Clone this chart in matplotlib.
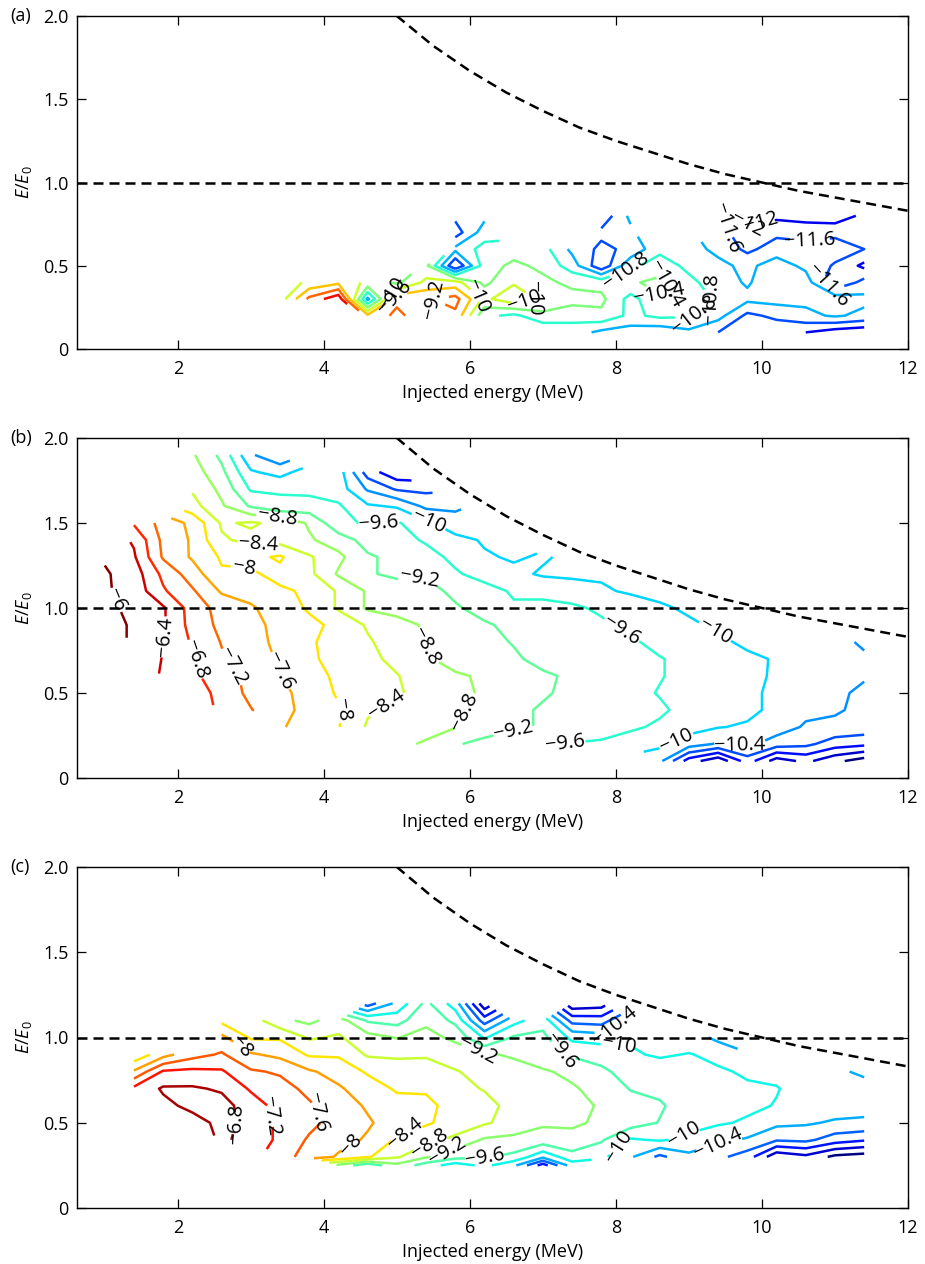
import numpy as np
import matplotlib
matplotlib.use('Agg')
import matplotlib.pyplot as plt
import matplotlib.colors as mcolors

N = float('nan')

plt.rcParams['font.family'] = ['Open Sans', 'DejaVu Sans']
plt.rcParams['mathtext.fontset'] = 'custom'
plt.rcParams['mathtext.rm'] = 'Open Sans'
plt.rcParams['mathtext.it'] = 'Open Sans:italic'

# ---------------- data ----------------
levels = [-12.4, -12.0, -11.6, -11.2, -10.8, -10.4, -10.0, -9.6, -9.2, -8.8,
          -8.4, -8.0, -7.6, -7.2, -6.8, -6.4, -6.0]

threshold_energy = [5.0, 5.5, 6.0, 6.5, 7.0, 7.5, 8.0, 8.5, 9.0, 9.5, 10.0, 10.5, 11.0, 11.5, 12.0]
threshold_ratio = [2.0, 1.82, 1.67, 1.54, 1.43, 1.33, 1.25, 1.18, 1.11, 1.05, 1.0, 0.95, 0.91, 0.87, 0.83]
unity_ratio = 1.0

# panel (a)
a_energy = [3.4, 3.8, 4.2, 4.6, 5.0, 5.4, 5.8, 6.2, 6.6, 7.0, 7.4, 7.8, 8.2, 8.6, 9.0, 9.4, 9.8, 10.2, 10.6, 11.0, 11.4]
a_ratio = [0.1, 0.2, 0.3, 0.4, 0.5, 0.6, 0.7, 0.8]
a_flux = [
    [N, N, N, N, N, N, N, N, N, -11.2, -11.0, -11.3, -11.4, -11.5, -11.3, -11.6, -12.0, -11.9, -12.0, -12.2, -12.3],
    [N, N, N, -9.5, -9.1, -9.45, -9.3, -10.7, -10.9, -10.5, -10.65, -10.5, -10.9, -10.7, -10.75, -11.05, -11.7, -11.5, -11.3, -11.15, -11.3],
    [-10.2, -9.1, -8.5, -11.3, -9.3, -9.25, -9.05, -10.1, -9.7, -10.1, -10.25, -10.3, -10.95, -10.45, -10.45, -10.9, -11.1, -11.05, -11.1, -10.95, -11.1],
    [-10.3, -9.9, -9.7, -10.1, -10.5, -9.9, -9.85, -10.5, -10.05, -10.3, -10.5, -10.55, -10.45, -10.3, -10.7, -11.0, -11.25, -10.9, -11.0, -12.0, -11.45],
    [N, N, N, N, N, -10.3, -12.0, -10.6, -10.3, -10.5, -11.0, -11.9, -10.9, -10.6, -10.9, -11.1, -11.3, -11.0, -11.3, -11.65, -12.1],
    [N, N, N, N, N, N, -11.1, -10.65, -10.6, -10.65, -11.3, -11.7, -11.5, -10.9, -11.05, -11.3, -11.7, -11.4, -11.5, -11.4, -11.6],
    [N, N, N, N, N, N, -11.8, -11.0, N, N, N, -11.5, -11.3, N, N, -11.4, -11.9, -11.7, -11.7, -11.7, -11.8],
    [N, N, N, N, N, N, -11.5, -11.3, N, N, N, -11.9, -11.1, N, N, N, -12.1, -12.1, -12.2, -12.25, -11.9],
]

# panel (b)
b_energy = [1.0, 1.4, 1.8, 2.2, 2.6, 3.0, 3.4, 3.8, 4.2, 4.6, 5.0, 5.4, 5.8, 6.2, 6.6, 7.0, 7.4, 7.8, 8.2, 8.6, 9.0, 9.4, 9.8, 10.2, 10.6, 11.0, 11.4]
b_ratio = [0.1, 0.2, 0.3, 0.4, 0.5, 0.6, 0.7, 0.8, 0.9, 1.0, 1.1, 1.2, 1.3, 1.4, 1.5, 1.6, 1.7, 1.8, 1.9]
b_flux = [
    [N, N, N, N, N, N, N, N, N, N, N, N, N, N, N, N, N, N, N, -10.3, -11.4, -11.9, -11.0, -11.8, -11.5, -11.9, -12.2],
    [N, N, N, N, N, N, N, N, N, N, -8.7, -8.85, -9.15, -9.35, -9.5, -9.55, -9.62, -9.65, -9.75, -9.9, -10.2, -10.45, -10.3, -10.6, -10.7, -11.0, -11.1],
    [N, N, N, N, N, N, -7.55, -7.8, -7.98, -8.45, -8.5, -8.65, -8.78, -8.95, -9.1, -9.25, -9.35, -9.45, -9.55, -9.65, -9.85, -9.98, -10.05, -10.2, -10.45, -10.5, -10.55],
    [N, N, N, N, -6.9, -7.18, -7.45, -7.75, -7.95, -8.35, -8.5, -8.6, -8.75, -8.9, -9.1, -9.25, -9.3, -9.4, -9.45, -9.55, -9.7, -9.8, -9.9, -10.1, -10.3, -10.35, -10.5],
    [N, N, N, -6.55, -6.95, -7.3, -7.5, -7.75, -8.05, -8.15, -8.35, -8.55, -8.7, -8.85, -9.0, -9.15, -9.3, -9.4, -9.5, -9.62, -9.7, -9.8, -9.9, -10.1, -10.2, -10.3, -10.5],
    [N, N, -6.45, -6.7, -7.05, -7.3, -7.58, -7.9, -8.05, -8.2, -8.38, -8.6, -8.75, -8.85, -9.0, -9.15, -9.25, -9.35, -9.45, -9.58, -9.7, -9.8, -9.9, -10.05, -10.2, -10.25, -10.35],
    [N, -6.1, -6.42, -6.75, -7.15, -7.4, -7.65, -7.95, -8.1, -8.3, -8.5, -8.75, -8.95, -9.05, -9.15, -9.3, -9.35, -9.4, -9.5, -9.58, -9.7, -9.85, -9.95, -10.02, -10.2, -10.25, -10.35],
    [N, -6.05, -6.38, -6.85, -7.22, -7.45, -7.7, -7.95, -8.15, -8.35, -8.6, -8.82, -8.95, -9.1, -9.22, -9.3, -9.4, -9.5, -9.55, -9.7, -9.9, -9.95, -10.05, -10.1, -10.2, -10.3, -10.45],
    [-5.85, -6.05, -6.35, -6.95, -7.3, -7.5, -7.7, -7.9, -8.1, -8.45, -8.65, -8.85, -9.0, -9.15, -9.3, -9.4, -9.45, -9.55, -9.7, -9.85, -9.95, -10.05, -10.1, -10.15, N, N, N],
    [-5.9, -6.1, -6.35, -6.98, -7.35, -7.55, -7.8, -8.05, -8.45, -8.85, -8.95, -9.0, -9.15, -9.35, -9.55, -9.5, -9.55, -9.65, -9.8, -9.95, -10.05, -10.1, N, N, N, N, N],
    [-5.95, -6.15, -6.75, -7.15, -7.65, -7.75, -7.95, -8.05, -8.45, -8.85, -8.95, -9.05, -9.3, -9.45, -9.65, -9.7, -9.75, -9.95, -10.05, -10.1, N, N, N, N, N, N, N],
    [-5.95, -6.2, -6.9, -7.4, -7.95, -7.95, -8.1, -8.3, -8.85, -9.15, -9.3, -9.25, -9.55, -9.75, -9.9, -10.05, -10.1, -10.05, N, N, N, N, N, N, N, N, N],
    [-6.05, -6.35, -7.25, -7.65, -8.05, -8.1, -7.95, -8.35, -8.7, -9.15, -9.3, -9.45, -9.7, -9.95, -10.05, -9.95, -10.1, N, N, N, N, N, N, N, N, N, N],
    [N, -6.45, -7.3, -7.65, -8.35, -8.5, -8.55, -8.75, -9.0, -9.35, -9.45, -9.65, -9.85, -10.05, -10.2, N, N, N, N, N, N, N, N, N, N, N, N],
    [N, -6.85, -7.35, -7.7, -8.45, -8.35, -8.5, -8.85, -9.5, -9.65, -9.55, -9.9, -10.3, -10.2, N, N, N, N, N, N, N, N, N, N, N, N, N],
    [N, N, N, -8.25, -8.75, -9.25, -9.5, -9.45, -9.55, -9.95, -10.05, -10.5, -10.45, N, N, N, N, N, N, N, N, N, N, N, N, N, N],
    [N, N, N, -8.45, -8.9, -9.65, -9.65, -9.7, -9.8, -10.45, -10.85, -10.9, N, N, N, N, N, N, N, N, N, N, N, N, N, N, N],
    [N, N, N, -8.6, -9.1, -9.95, -10.15, -9.8, -9.8, -11.0, -11.5, N, N, N, N, N, N, N, N, N, N, N, N, N, N, N, N],
    [N, N, N, -8.75, -9.3, -10.35, -10.7, N, N, N, N, N, N, N, N, N, N, N, N, N, N, N, N, N, N, N, N],
]

# panel (c)
c_energy = [1.4, 1.8, 2.2, 2.6, 3.0, 3.4, 3.8, 4.2, 4.6, 5.0, 5.4, 5.8, 6.2, 6.6, 7.0, 7.4, 7.8, 8.2, 8.6, 9.0, 9.4, 9.8, 10.2, 10.6, 11.0, 11.4]
c_ratio = [0.25, 0.3, 0.4, 0.5, 0.6, 0.7, 0.8, 0.9, 1.0, 1.1, 1.2]
c_flux = [
    [N, N, N, N, N, N, N, -9.3, -9.9, -9.3, -9.8, -10.2, -9.9, -10.3, -11.4, -10.2, N, N, N, N, N, N, N, N, N, N],
    [N, N, N, N, N, -7.45, -7.75, -8.05, -8.35, -8.75, -9.15, -9.45, -9.55, -9.7, -10.3, -9.75, -9.9, -10.35, -10.9, -10.5, -10.7, -11.0, -11.9, -11.7, -12.1, -12.2],
    [N, N, N, -6.75, -6.9, -7.3, -7.65, -7.85, -8.05, -8.45, -8.65, -8.9, -9.25, -9.3, -9.35, -9.3, -9.55, -10.05, -9.95, -10.1, -10.3, -10.45, -10.75, -10.7, -11.0, -11.15],
    [N, -7.1, -6.95, -6.7, -6.9, -7.3, -7.5, -7.75, -7.95, -8.2, -8.35, -8.55, -8.75, -8.95, -9.15, -9.15, -9.25, -9.4, -9.62, -9.85, -9.95, -10.05, -10.3, -10.35, -10.45, -10.45],
    [N, -6.9, -6.7, -6.65, -7.0, -7.35, -7.55, -7.8, -8.05, -8.25, -8.3, -8.55, -8.7, -8.9, -8.95, -9.05, -9.25, -9.45, -9.55, -9.8, -9.9, -9.92, -10.02, -10.15, -10.2, -10.3],
    [-7.1, -6.75, -6.75, -6.85, -7.25, -7.45, -7.7, -7.95, -8.2, -8.45, -8.45, -8.7, -8.82, -8.95, -9.05, -9.15, -9.35, -9.62, -9.7, -9.85, -9.9, -9.95, -9.98, -10.15, -10.25, -10.3],
    [-7.95, -7.15, -7.1, -7.15, -7.55, -7.65, -7.95, -8.15, -8.45, -8.5, -8.6, -8.78, -8.9, -9.05, -9.15, -9.3, -9.55, -9.7, -9.8, -9.9, -9.95, -10.05, -10.1, -10.2, -10.35, -10.45],
    [-8.7, -8.15, -7.75, -7.55, -7.95, -8.1, -8.45, -8.45, -8.85, -8.9, -8.85, -8.95, -9.15, -9.25, -9.45, -9.65, -9.7, -9.95, -10.05, -9.98, -10.1, -10.35, -10.3, N, N, N],
    [N, N, N, -7.9, -8.45, -8.45, -8.85, -8.75, -9.05, -9.22, -9.05, -9.3, -10.05, -9.55, -9.5, -10.1, -10.2, -10.05, -10.1, -10.2, -10.5, N, N, N, N, N],
    [N, N, N, -8.5, -8.6, -9.1, -9.3, -9.0, -9.65, -9.75, -9.3, -9.7, -11.0, -10.15, -9.75, -10.95, -11.0, -10.3, N, N, N, N, N, N, N, N],
    [N, N, N, N, N, N, N, N, -11.0, -10.3, -9.5, -10.2, -11.9, N, N, -11.9, -11.8, N, N, N, N, N, N, N, N, N],
]

# contour label anchors: (level, energy, ratio)
a_labels = [(-9.6, 4.8, 0.33), (-10.0, 4.95, 0.33), (-9.2, 5.35, 0.27), (-10.0, 6.1, 0.32),
            (-10.0, 6.9, 0.31), (-10.0, 7.83, 0.3), (-12.0, 8.12, 0.57), (-10.8, 8.2, 0.45),
            (-10.4, 8.6, 0.33), (-10.4, 9.1, 0.27), (-10.8, 9.25, 0.18), (-12.0, 9.8, 0.66),
            (-11.6, 9.9, 0.78), (-11.6, 10.65, 0.66), (-11.6, 10.85, 0.37), (-10.8, 11.1, 0.22)]
b_labels = [(-6.0, 1.45, 1.1), (-6.4, 1.8, 0.83), (-6.8, 2.25, 0.7), (-7.2, 2.63, 0.62),
            (-7.6, 3.35, 0.62), (-8.0, 2.9, 1.22), (-8.4, 3.1, 1.38), (-8.8, 3.35, 1.5),
            (-9.6, 4.75, 1.5), (-10.0, 5.4, 1.47), (-9.2, 5.3, 1.27), (-8.8, 5.3, 0.75),
            (-8.0, 4.45, 0.42), (-8.4, 4.95, 0.37), (-8.8, 6.0, 0.38), (-9.2, 6.6, 0.28),
            (-9.6, 7.3, 0.2), (-9.6, 8.05, 0.85), (-10.0, 9.3, 0.82), (-10.0, 8.85, 0.2),
            (-10.4, 9.7, 0.19)]
c_labels = [(-6.8, 2.7, 0.5), (-7.2, 3.3, 0.54), (-7.6, 3.95, 0.56), (-8.0, 2.8, 0.93),
            (-8.0, 4.4, 0.36), (-8.4, 5.15, 0.43), (-8.8, 5.4, 0.4), (-9.2, 5.7, 0.33),
            (-9.6, 6.2, 0.3), (-9.2, 6.05, 0.9), (-9.6, 7.0, 0.89), (-10.0, 8.0, 0.88),
            (-10.4, 8.25, 1.0), (-10.0, 7.9, 0.38), (-10.0, 8.9, 0.44), (-10.4, 9.4, 0.38)]

panels = [
    ('(a)', a_energy, a_ratio, a_flux, a_labels, (-12.4, -8.4)),
    ('(b)', b_energy, b_ratio, b_flux, b_labels, (-12.0, -6.0)),
    ('(c)', c_energy, c_ratio, c_flux, c_labels, (-12.0, -6.6)),
]

# ---------------- figure ----------------
W, H = 925, 1264
fig = plt.figure(figsize=(W / 100, H / 100), dpi=100)
boxes = [(77, 16, 908, 349), (77, 438, 908, 778), (77, 867, 908, 1208)]

dash = (0, (4, 2.4))
cmap = plt.get_cmap('jet')


def fmt(v):
    return f'{v:g}'.replace('-', '\u2212')


for (tag, ex, ry, fl, labs, (vmin, vmax)), (l, t, r, b) in zip(panels, boxes):
    ax = fig.add_axes([l / W, 1 - b / H, (r - l) / W, (b - t) / H])
    Z = np.ma.masked_invalid(np.array(fl, dtype=float))
    norm = mcolors.Normalize(vmin=vmin, vmax=vmax)
    zmin, zmax = float(Z.min()), float(Z.max())
    for lev in levels:
        if not (zmin < lev < zmax):
            continue
        cs = ax.contour(ex, ry, Z, levels=[lev], colors=[cmap(norm(lev))],
                        linewidths=1.8, linestyles='solid')
        pts = [(px, py) for (L, px, py) in labs if L == lev]
        if pts:
            try:
                texts = ax.clabel(cs, manual=pts, inline=True, fmt=fmt,
                                  fontsize=14.5, inline_spacing=3)
                for tx in texts:
                    tx.set_color('k')
            except Exception:
                pass
    ax.plot(threshold_energy, threshold_ratio, color='k', ls=dash, lw=1.8, zorder=5)
    ax.axhline(unity_ratio, color='k', ls=dash, lw=1.8, zorder=5)

    ax.set_xlim(0.62, 12)
    ax.set_ylim(0, 2)
    ax.set_xticks([2, 4, 6, 8, 10, 12])
    ax.set_yticks([0, 0.5, 1.0, 1.5, 2.0])
    ax.set_yticklabels(['0', '0.5', '1.0', '1.5', '2.0'])
    ax.tick_params(direction='in', length=6.5, width=0.9, top=True, right=True,
                   labelsize=13)
    ax.tick_params(axis='x', pad=8)
    ax.tick_params(axis='y', pad=6)
    for s in ax.spines.values():
        s.set_linewidth(1.0)
    hpx = b - t
    ax.set_xlabel('Injected energy (MeV)', fontsize=13)
    ax.xaxis.set_label_coords(0.5, -35 / hpx)
    ax.set_ylabel(r'$E/E_0$', fontsize=13)
    ax.yaxis.set_label_coords(-43 / (r - l), 0.5)
    ax.text(-67 / (r - l), 1.0, tag, transform=ax.transAxes, ha='left', va='center',
            fontsize=13)

fig.savefig('out.png', dpi=100)
